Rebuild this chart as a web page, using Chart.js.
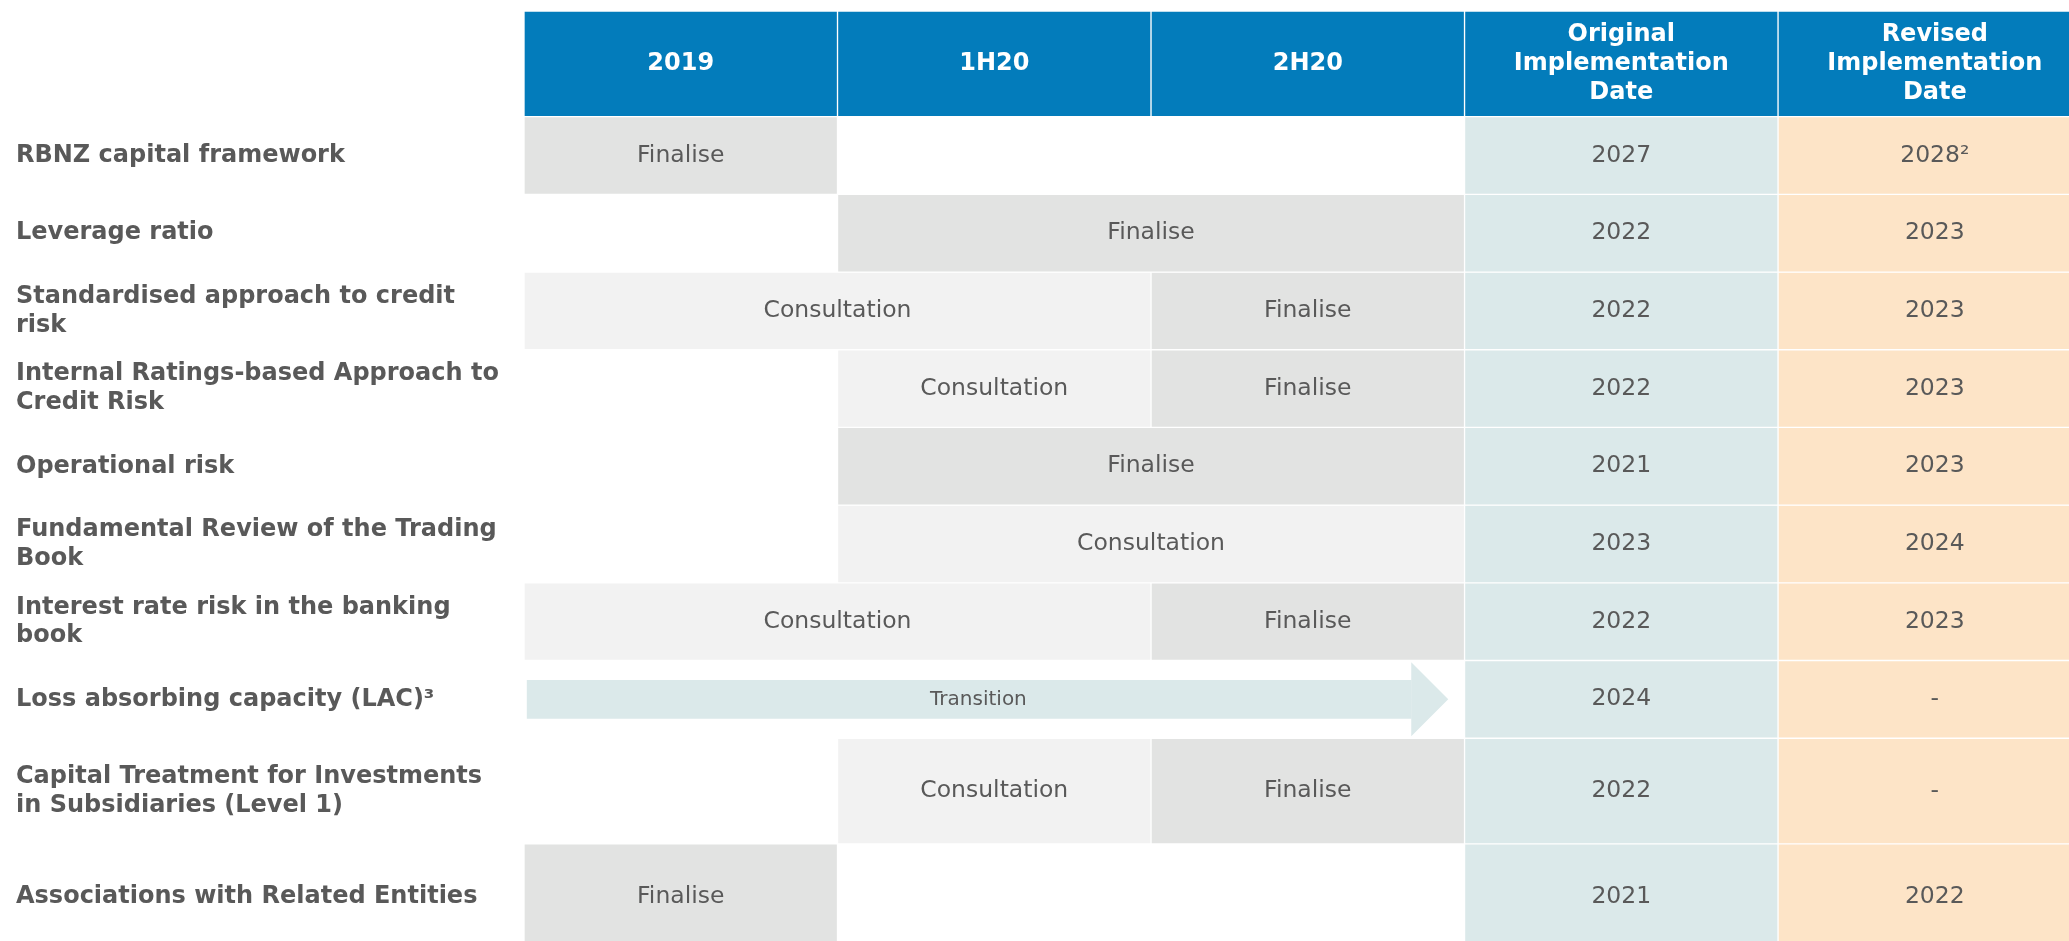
<!DOCTYPE html>
<html>
<head>
<meta charset="utf-8">
<title>Capital review timeline</title>
<script src="https://cdn.jsdelivr.net/npm/chart.js@4.4.1/dist/chart.umd.min.js"></script>
<style>
  html, body { margin: 0; padding: 0; background: #fff; }
  #wrap { position: relative; width: 2069px; height: 941px; }
</style>
</head>
<body>
<div id="wrap"><canvas id="chart"></canvas></div>
<script>
// column headings (0 = 2019, 1 = 1H20, 2 = 2H20, 3 = original date, 4 = revised date)
const columnHeaders = ['2019', '1H20', '2H20', 'Original\nImplementation\nDate', 'Revised\nImplementation\nDate'];

const initiatives = [
  'RBNZ capital framework',
  'Leverage ratio',
  'Standardised approach to credit\nrisk',
  'Internal Ratings-based Approach to\nCredit Risk',
  'Operational risk',
  'Fundamental Review of the Trading\nBook',
  'Interest rate risk in the banking\nbook',
  'Loss absorbing capacity (LAC)\u00b3',
  'Capital Treatment for Investments\nin Subsidiaries (Level 1)',
  'Associations with Related Entities'
];

// [from, to] in period columns
const consultation = [null, null, [0, 2], [1, 2], null, [1, 3], [0, 2], null, [1, 2], null];
const finalise = [[0, 1], [1, 3], [2, 3], [2, 3], [1, 3], null, [2, 3], null, [2, 3], [0, 1]];
const transition = [null, null, null, null, null, null, null, [0.01, 2.83], null, null];

const originalDate = ['2027', '2022', '2022', '2022', '2021', '2023', '2022', '2024', '2022', '2021'];
const revisedDate = ['2028\u00b2', '2023', '2023', '2023', '2023', '2024', '2023', '-', '-', '2022'];

// layout
const ROW_UNITS = [1.36, 1, 1, 1, 1, 1, 1, 1, 1, 1.36, 1.36]; // header + rows
const Y_MAX = 11.97;
const X_MAX = 4.928;
const TOP = 11;
const PX_PER_UNIT = (941 - TOP) / Y_MAX;

const BLUE = '#037cbb';
const DARK_GREY = '#e2e3e2';
const LIGHT_GREY = '#f2f2f2';
const ORIG_BG = '#dbe9ea';
const REV_BG = '#fde4c7';
const TEXT = '#595959';
const FONT = '"DejaVu Sans", Verdana, sans-serif';

const centers = [];
let acc = 0;
ROW_UNITS.forEach((u) => {
  centers.push(acc + u / 2);
  acc += u;
});
const rowCenters = centers.slice(1);

const datasets = [];

// header row
datasets.push({
  data: columnHeaders.map((h, i) => ({ x: [i, i + 1], y: centers[0] })),
  backgroundColor: BLUE,
  texts: columnHeaders,
  textColor: '#ffffff',
  textFont: 'bold 24px ' + FONT,
  barThickness: ROW_UNITS[0] * PX_PER_UNIT,
});

// one dataset per initiative row
initiatives.forEach((name, r) => {
  const y = rowCenters[r];
  const data = [], colors = [], texts = [];
  if (consultation[r]) {
    data.push({ x: consultation[r], y });
    colors.push(LIGHT_GREY);
    texts.push('Consultation');
  }
  if (finalise[r]) {
    data.push({ x: finalise[r], y });
    colors.push(DARK_GREY);
    texts.push('Finalise');
  }
  data.push({ x: [3, 4], y });
  colors.push(ORIG_BG);
  texts.push(originalDate[r]);
  data.push({ x: [4, 5], y });
  colors.push(REV_BG);
  texts.push(revisedDate[r]);

  datasets.push({
    label: name,
    data,
    backgroundColor: colors,
    texts,
    textColor: TEXT,
    textFont: '23.5px ' + FONT,
    barThickness: ROW_UNITS[r + 1] * PX_PER_UNIT,
  });
});

// transition arrows (thin shaft, head drawn by plugin)
datasets.push({
  label: 'Transition',
  data: transition.map((t, r) => (t ? { x: t, y: rowCenters[r] } : null)).filter(Boolean),
  backgroundColor: ORIG_BG,
  borderWidth: 0,
  texts: transition.filter(Boolean).map(() => 'Transition'),
  textColor: TEXT,
  textFont: '20px ' + FONT,
  barThickness: 38,
  arrowHead: { len: 37, half: 37 },
});

const cellText = {
  id: 'cellText',
  afterDatasetsDraw(chart) {
    const ctx = chart.ctx;
    ctx.save();
    chart.data.datasets.forEach((ds, di) => {
      const meta = chart.getDatasetMeta(di);
      meta.data.forEach((bar, j) => {
        const { x, y, base } = bar.getProps(['x', 'y', 'base'], true);
        let cx = (x + base) / 2;
        if (ds.arrowHead) {
          const h = ds.arrowHead;
          ctx.fillStyle = ds.backgroundColor;
          ctx.beginPath();
          ctx.moveTo(x, y - h.half);
          ctx.lineTo(x + h.len, y);
          ctx.lineTo(x, y + h.half);
          ctx.closePath();
          ctx.fill();
          cx += h.len / 4;
        }
        const text = ds.texts && ds.texts[j];
        if (!text) return;
        ctx.fillStyle = ds.textColor;
        ctx.font = ds.textFont;
        ctx.textAlign = 'center';
        ctx.textBaseline = 'middle';
        const lines = text.split('\n');
        const lh = 29;
        lines.forEach((line, k) => {
          ctx.fillText(line, cx, y + (k - (lines.length - 1) / 2) * lh);
        });
      });
    });
    ctx.restore();
  }
};

new Chart(document.getElementById('chart'), {
  type: 'bar',
  data: { datasets },
  options: {
    indexAxis: 'y',
    responsive: true,
    maintainAspectRatio: false,
    animation: false,
    events: [],
    layout: { padding: { top: TOP, left: 16, right: 0, bottom: 0 } },
    datasets: {
      bar: {
        grouped: false,
        borderWidth: 1,
        borderColor: '#ffffff',
        borderSkipped: false,
      }
    },
    scales: {
      x: {
        type: 'linear',
        min: 0,
        max: X_MAX,
        offset: false,
        display: false,
      },
      y: {
        type: 'linear',
        reverse: true,
        offset: false,
        min: 0,
        max: Y_MAX,
        grid: { display: false },
        border: { display: false },
        afterBuildTicks: (scale) => {
          scale.ticks = rowCenters.map((v) => ({ value: v }));
        },
        afterFit: (scale) => {
          scale.width = 508;
          scale.paddingTop = 0;
          scale.paddingBottom = 0;
        },
        ticks: {
          autoSkip: false,
          crossAlign: 'far',
          padding: 0,
          color: TEXT,
          font: { family: FONT, size: 24, weight: 'bold', lineHeight: 1.2 },
          callback: (value, index) => initiatives[index].split('\n'),
        }
      }
    },
    plugins: {
      legend: { display: false },
      tooltip: { enabled: false },
    }
  },
  plugins: [cellText]
});
</script>
</body>
</html>
